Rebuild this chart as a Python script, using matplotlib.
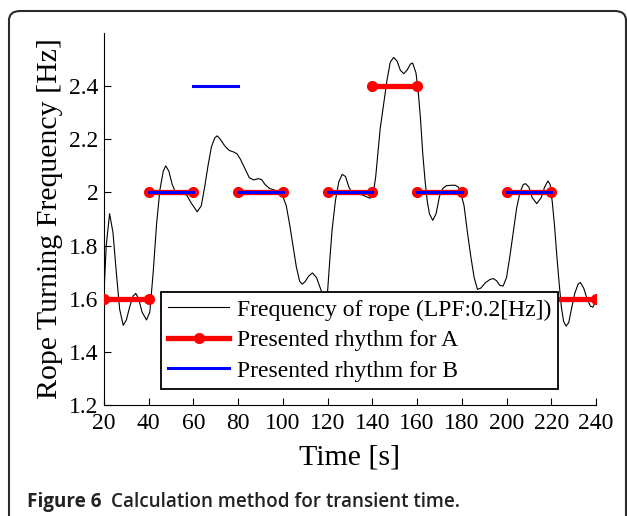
import numpy as np
import matplotlib
matplotlib.use('Agg')
import matplotlib.pyplot as plt
from matplotlib.patches import FancyBboxPatch
from matplotlib.ticker import FormatStrFormatter

# rope turning frequency (LPF 0.2 Hz)
time_s = [20, 21, 22.5, 24, 25.5, 27, 28.6, 30, 31.5, 33, 34.2, 35.5, 37, 39, 40.5,
          42, 43.5, 45, 46.5, 47.6, 49, 50.5, 52, 55, 57, 59, 61.7, 63.5, 65, 66.5,
          68, 69.5, 70.6, 72, 74, 76, 78, 79.5, 81, 83, 85, 87, 89, 90.5, 92, 94, 96,
          98, 100, 101.5, 103, 104.5, 106, 107.5, 108.7, 110, 111.5, 113.2, 115, 116.5,
          118, 119, 120, 121, 122, 123.5, 125, 126.5, 128, 129.5, 131, 133, 135, 137,
          139, 140.5, 141.5, 142.5, 143.5, 145, 146.5, 148, 149.5, 151, 152.5, 154,
          155.5, 157, 158, 159.5, 160.5, 161.5, 162.5, 163.5, 164.5, 165.5, 167, 168.5,
          170, 171.5, 173, 175, 177, 178.5, 179.5, 181, 182.5, 184, 185.5, 187, 188.5,
          190.5, 192.5, 194, 195.5, 197, 198.5, 200, 201.5, 203, 204.5, 206, 207.5,
          208.5, 210, 211.5, 213.5, 215.5, 217, 218.5, 219.5, 220.5, 221.5, 222.5,
          223.5, 224.5, 225.5, 226.6, 227.8, 229, 230.5, 232, 233, 234.5, 236, 237.5,
          238.6, 239.5, 240]
freq_hz = [1.62, 1.80, 1.92, 1.85, 1.70, 1.56, 1.50, 1.52, 1.57, 1.61, 1.62, 1.60, 1.55,
           1.52, 1.55, 1.70, 1.88, 2.01, 2.08, 2.10, 2.08, 2.03, 2.00, 1.995, 1.99, 1.96,
           1.927, 1.95, 2.02, 2.10, 2.17, 2.205, 2.213, 2.20, 2.175, 2.158, 2.152, 2.145,
           2.125, 2.09, 2.055, 2.047, 2.052, 2.048, 2.03, 2.015, 2.01, 2.0, 1.985, 1.95,
           1.88, 1.80, 1.72, 1.665, 1.655, 1.665, 1.685, 1.697, 1.68, 1.645, 1.61, 1.60,
           1.63, 1.75, 1.86, 1.97, 2.04, 2.068, 2.06, 2.02, 1.998, 1.995, 1.992, 1.985,
           1.978, 2.0, 2.06, 2.15, 2.24, 2.33, 2.42, 2.49, 2.508, 2.495, 2.46, 2.447,
           2.46, 2.483, 2.487, 2.45, 2.38, 2.28, 2.15, 2.05, 1.97, 1.92, 1.895, 1.92,
           1.985, 2.015, 2.025, 2.027, 2.027, 2.02, 2.0, 1.95, 1.85, 1.76, 1.68, 1.635,
           1.64, 1.66, 1.672, 1.676, 1.668, 1.65, 1.648, 1.68, 1.76, 1.85, 1.94, 2.0,
           2.03, 2.033, 2.02, 1.98, 1.958, 1.98, 2.02, 2.043, 2.03, 1.96, 1.87, 1.76,
           1.66, 1.57, 1.515, 1.497, 1.51, 1.56, 1.62, 1.655, 1.661, 1.64, 1.60, 1.572,
           1.568, 1.585, 1.60]

# presented rhythm, one value per 20 s block (nan = not shown)
block_start = [20, 40, 60, 80, 100, 120, 140, 160, 180, 200, 220]
rhythm_a = [1.6, 2.0, 1.6, 2.0, 1.6, 2.0, 2.4, 2.0, 1.6, 2.0, 1.6]
rhythm_b = [np.nan, 2.0, 2.4, 2.0, 1.6, 2.0, 1.6, 2.0, 1.6, 2.0, np.nan]
block_len = 20


def to_segments(starts, values, length):
    # each block becomes its own horizontal segment, split with nan
    xs, ys = [], []
    for s, v in zip(starts, values):
        xs += [s, s + length, np.nan]
        ys += [v, v, np.nan]
    return xs, ys


plt.rcParams['font.family'] = ['Liberation Serif', 'DejaVu Serif']

fig = plt.figure(figsize=(6.27, 5.16), dpi=100)
W, H = 627, 516

# rounded frame around the figure, open at the bottom
frame = FancyBboxPatch((9 / W, -0.2), (626 - 9) / W, (516 - 11) / H + 0.2,
                       boxstyle='round,pad=0,rounding_size=0.018',
                       transform=fig.transFigure, fill=False,
                       edgecolor='#2b2b2b', linewidth=1.5, clip_on=False)
fig.patches.append(frame)

ax = fig.add_axes([104 / W, 1 - 405 / H, (596 - 104) / W, (405 - 33) / H])

ax.plot(time_s, freq_hz, color='black', linewidth=0.8, zorder=2,
        label='Frequency of rope (LPF:0.2[Hz])')
xa, ya = to_segments(block_start, rhythm_a, block_len)
ax.plot(xa, ya, color='red', linewidth=3.8, marker='o', markersize=7,
        zorder=3, label='Presented rhythm for A')
xb, yb = to_segments(block_start, rhythm_b, block_len)
ax.plot(xb, yb, color='blue', linewidth=2.2, zorder=4,
        label='Presented rhythm for B')

ax.set_xlim(20, 240)
ax.set_ylim(1.2, 2.6)
ax.set_xticks(range(20, 241, 20))
ax.set_yticks([1.2, 1.4, 1.6, 1.8, 2.0, 2.2, 2.4])
ax.yaxis.set_major_formatter(FormatStrFormatter('%g'))
ax.tick_params(direction='in', length=5, labelsize=17, width=0.8)
ax.tick_params(axis='x', pad=6)
ax.tick_params(axis='y', pad=4)
for side in ['top', 'right']:
    ax.spines[side].set_visible(False)
for side in ['left', 'bottom']:
    ax.spines[side].set_linewidth(0.8)

ax.set_xlabel('Time [s]', fontsize=21.5, labelpad=7)
ax.set_ylabel('Rope Turning Frequency [Hz]', fontsize=21.5, labelpad=4)

leg = ax.legend(loc='upper left', bbox_to_anchor=(0.1159, 0.3038),
                fontsize=17, frameon=True, fancybox=False, framealpha=1,
                edgecolor='black', borderpad=0.3, labelspacing=0.38,
                handlelength=2.6, handletextpad=0.3, borderaxespad=0)
leg.get_frame().set_linewidth(1.3)
leg.set_zorder(10)

# caption
fig.text(27 / W, 1 - 507 / H, 'Figure 6', fontsize=13.6, fontweight='bold',
         family='Open Sans', color='#222222', va='baseline')
fig.text(111 / W, 1 - 507 / H, 'Calculation method for transient time.',
         fontsize=13.6, fontweight='semibold', family='Open Sans',
         color='#222222', va='baseline')

fig.savefig('out.png', dpi=100)
